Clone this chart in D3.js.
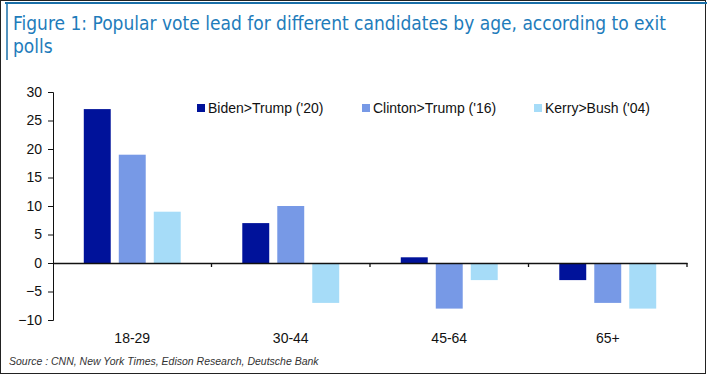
<!DOCTYPE html>
<html>
<head>
<meta charset="utf-8">
<script src="https://cdn.jsdelivr.net/npm/d3@7"></script>
<style>
  body { margin: 0; background: #fff; }
  text { font-family: "Liberation Sans", Arial, sans-serif; }
</style>
</head>
<body>
<svg id="chart" width="707" height="377"></svg>
<script>
// data
var ageGroups = ["18-29", "30-44", "45-64", "65+"]
var seriesNames = ["Biden>Trump ('20)", "Clinton>Trump ('16)", "Kerry>Bush ('04)"]
var biden20 = [27, 7, 1, -3]
var clinton16 = [19, 10, -8, -7]
var kerry04 = [9, -7, -3, -8]
var yTicks = [-10, -5, 0, 5, 10, 15, 20, 25, 30]
var colors = ["#00129a", "#7799e6", "#a6dcf8"]

var series = [biden20, clinton16, kerry04]

var svg = d3.select("#chart")

// frame
svg.append("rect")
  .attr("x", 0.5).attr("y", 0.5)
  .attr("width", 705).attr("height", 373)
  .style("fill", "none").style("stroke", "#222").style("stroke-width", 1)
svg.append("line")
  .attr("x1", 5).attr("x2", 707).attr("y1", 3).attr("y2", 3)
  .style("stroke", "#1a6fa8").style("stroke-width", 2)
svg.append("line")
  .attr("x1", 7).attr("x2", 7).attr("y1", 3).attr("y2", 60)
  .style("stroke", "#1a6fa8").style("stroke-width", 1.5)

// title
var title = svg.append("text")
  .attr("x", 13).attr("y", 30)
  .style("fill", "#1e7cbb")
  .style("font-family", "'Liberation Sans Narrow', 'DejaVu Sans Condensed', sans-serif")
  .style("font-size", "19px")
title.append("tspan").attr("x", 13).attr("y", 30)
  .text("Figure 1: Popular vote lead for different candidates by age, according to exit")
title.append("tspan").attr("x", 13).attr("y", 53).text("polls")

var x = d3.scaleBand().domain(ageGroups).range([53, 687])
var y = d3.scaleLinear().domain([-10, 30]).range([320, 92])

var inner = d3.scaleBand().domain(d3.range(series.length))
  .range([0, x.bandwidth()]).paddingInner(0.23).paddingOuter(0.88)

// y axis
var yAxis = d3.axisLeft(y).tickValues(yTicks).tickSize(5).tickPadding(6)
var gy = svg.append("g").attr("transform", "translate(53,0)").call(yAxis)
gy.selectAll("text").style("font-size", "14px").style("fill", "#111")
  .style("font-family", "'Liberation Sans', Arial, sans-serif")
gy.selectAll("line, path").style("stroke", "#111")

// bars
series.forEach(function(vals, s) {
  svg.append("g").selectAll("rect")
    .data(vals)
    .enter()
    .append("rect")
    .attr("x", function(d, i) { return x(ageGroups[i]) + inner(s) })
    .attr("y", function(d) { return y(Math.max(0, d)) })
    .attr("width", inner.bandwidth())
    .attr("height", function(d) { return Math.abs(y(d) - y(0)) })
    .style("fill", colors[s])
})

// zero line with category ticks
var xAxis = d3.axisBottom(x).tickSize(0).tickFormat("")
var gx = svg.append("g").attr("transform", "translate(0," + y(0) + ")").call(xAxis)
gx.select("path").style("stroke", "#111").style("stroke-width", 1.3)
gx.selectAll(".tick").remove()
var bounds = ageGroups.slice(1).map(function(g) { return x(g) }).concat([x.range()[1]])
gx.selectAll(".sep").data(bounds).enter().append("line")
  .attr("x1", function(d) { return d }).attr("x2", function(d) { return d })
  .attr("y1", 0).attr("y2", 4)
  .style("stroke", "#111").style("stroke-width", 1.3)

// category labels below the plot
svg.append("g").selectAll("text")
  .data(ageGroups)
  .enter()
  .append("text")
  .attr("x", function(d) { return x(d) + x.bandwidth() / 2 })
  .attr("y", 343)
  .attr("text-anchor", "middle")
  .style("font-size", "14px")
  .style("fill", "#111")
  .text(function(d) { return d })

// legend
var legendX = [197, 362, 534]
var lg = svg.append("g").selectAll("g")
  .data(seriesNames)
  .enter()
  .append("g")
  .attr("transform", function(d, i) { return "translate(" + legendX[i] + ",104)" })
lg.append("rect").attr("width", 8).attr("height", 8)
  .style("fill", function(d, i) { return colors[i] })
lg.append("text").attr("x", 11).attr("y", 9)
  .style("font-size", "14px").style("fill", "#111")
  .text(function(d) { return d })

// source
svg.append("text")
  .attr("x", 9).attr("y", 365)
  .style("font-size", "10.5px")
  .style("font-style", "italic")
  .style("fill", "#333")
  .text("Source : CNN, New York Times, Edison Research, Deutsche Bank")
</script>
</body>
</html>
